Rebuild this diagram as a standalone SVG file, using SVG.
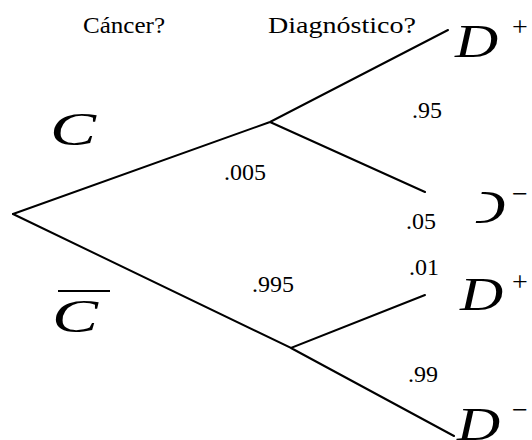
<svg xmlns="http://www.w3.org/2000/svg" width="532" height="440" viewBox="0 0 532 440">
<style>
text{font-family:'Liberation Serif','Times New Roman',Times,serif;fill:#000}
.h{font-size:24px}
.n{font-size:24px}
.d{font-size:46px;font-style:italic}
.s{font-size:28px}
.c{font-size:46px;font-style:italic}
.ln{stroke:#000;stroke-width:2;fill:none;stroke-linecap:round}
</style>
<defs>
<clipPath id="clipD" clipPathUnits="userSpaceOnUse"><polygon points="483,186 532,186 532,232 474,232"/></clipPath>
</defs>
<rect width="532" height="440" fill="#fff"/>
<g id="headers">
<text class="h" x="83" y="33" textLength="82" lengthAdjust="spacingAndGlyphs">Cáncer?</text>
<text class="h" x="268" y="33" textLength="148" lengthAdjust="spacingAndGlyphs">Diagnóstico?</text>
</g>
<g id="connectors">
<path class="ln" d="M13,214 L270,122 L448,30 M270,122 L425,192"/>
<path class="ln" d="M13,214 L291,348 L425,295 M291,348 L454,436"/>
</g>
<g id="node-C">
<text class="c" transform="translate(50,145) scale(1.5,1)">C</text>
</g>
<g id="node-Cbar">
<line x1="58" y1="291" x2="110" y2="291" stroke="#000" stroke-width="2"/>
<text class="c" transform="translate(52,332) scale(1.5,1)">C</text>
</g>
<g id="node-D1">
<text class="d" transform="translate(455,57) scale(1.3,1)">D</text>
<text class="s" x="512" y="36">+</text>
</g>
<g id="node-D2">
<g clip-path="url(#clipD)">
<text class="d" transform="translate(462,223) scale(1.3,1)">D</text>
</g>
<text class="s" x="512" y="203">−</text>
</g>
<g id="node-D3">
<text class="d" transform="translate(460,310) scale(1.3,1)">D</text>
<text class="s" x="512" y="291">+</text>
</g>
<g id="node-D4">
<text class="d" transform="translate(457,440) scale(1.3,1)">D</text>
<text class="s" x="512" y="419">−</text>
</g>
<g id="labels">
<text class="n" x="412" y="118">.95</text>
<text class="n" x="224" y="180">.005</text>
<text class="n" x="406" y="229">.05</text>
<text class="n" x="409" y="275">.01</text>
<text class="n" x="252" y="292">.995</text>
<text class="n" x="408" y="382">.99</text>
</g>
</svg>
